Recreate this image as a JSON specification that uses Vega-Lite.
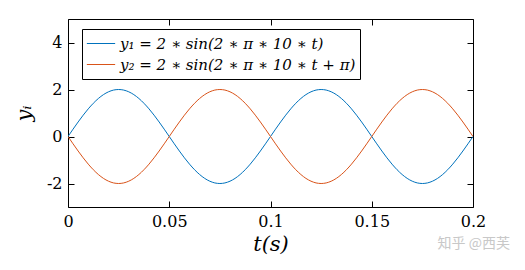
{
  "$schema": "https://vega.github.io/schema/vega-lite/v6.json",
  "width": 405,
  "height": 188,
  "autosize": {"type": "none"},
  "padding": {"left": 68, "top": 19, "right": 52, "bottom": 63},
  "background": "white",
  "config": {
    "view": {"stroke": "black", "strokeWidth": 1},
    "axis": {
      "grid": false,
      "domain": false,
      "ticks": true,
      "tickColor": "black",
      "tickSize": -6,
      "tickWidth": 1,
      "labelFlush": false,
      "labelFont": "DejaVu Serif",
      "labelFontSize": 16,
      "labelColor": "black",
      "titleFont": "DejaVu Serif",
      "titleFontSize": 21,
      "titleFontStyle": "italic",
      "titleFontWeight": "normal",
      "titleColor": "black"
    }
  },
  "title": {
    "text": "知乎 @西芙",
    "orient": "bottom",
    "anchor": "end",
    "frame": "group",
    "font": "Noto Sans CJK SC",
    "fontSize": 14,
    "fontWeight": "normal",
    "color": "#c8c8c8",
    "dx": 37,
    "offset": -17
  },
  "data": {
    "values": [
      {"t": 0, "y1": 0, "y2": 0},
      {"t": 0.0025, "y1": 0.3129, "y2": -0.3129},
      {"t": 0.005, "y1": 0.618, "y2": -0.618},
      {"t": 0.0075, "y1": 0.908, "y2": -0.908},
      {"t": 0.01, "y1": 1.1756, "y2": -1.1756},
      {"t": 0.0125, "y1": 1.4142, "y2": -1.4142},
      {"t": 0.015, "y1": 1.618, "y2": -1.618},
      {"t": 0.0175, "y1": 1.782, "y2": -1.782},
      {"t": 0.02, "y1": 1.9021, "y2": -1.9021},
      {"t": 0.0225, "y1": 1.9754, "y2": -1.9754},
      {"t": 0.025, "y1": 2, "y2": -2},
      {"t": 0.0275, "y1": 1.9754, "y2": -1.9754},
      {"t": 0.03, "y1": 1.9021, "y2": -1.9021},
      {"t": 0.0325, "y1": 1.782, "y2": -1.782},
      {"t": 0.035, "y1": 1.618, "y2": -1.618},
      {"t": 0.0375, "y1": 1.4142, "y2": -1.4142},
      {"t": 0.04, "y1": 1.1756, "y2": -1.1756},
      {"t": 0.0425, "y1": 0.908, "y2": -0.908},
      {"t": 0.045, "y1": 0.618, "y2": -0.618},
      {"t": 0.0475, "y1": 0.3129, "y2": -0.3129},
      {"t": 0.05, "y1": 0, "y2": 0},
      {"t": 0.0525, "y1": -0.3129, "y2": 0.3129},
      {"t": 0.055, "y1": -0.618, "y2": 0.618},
      {"t": 0.0575, "y1": -0.908, "y2": 0.908},
      {"t": 0.06, "y1": -1.1756, "y2": 1.1756},
      {"t": 0.0625, "y1": -1.4142, "y2": 1.4142},
      {"t": 0.065, "y1": -1.618, "y2": 1.618},
      {"t": 0.0675, "y1": -1.782, "y2": 1.782},
      {"t": 0.07, "y1": -1.9021, "y2": 1.9021},
      {"t": 0.0725, "y1": -1.9754, "y2": 1.9754},
      {"t": 0.075, "y1": -2, "y2": 2},
      {"t": 0.0775, "y1": -1.9754, "y2": 1.9754},
      {"t": 0.08, "y1": -1.9021, "y2": 1.9021},
      {"t": 0.0825, "y1": -1.782, "y2": 1.782},
      {"t": 0.085, "y1": -1.618, "y2": 1.618},
      {"t": 0.0875, "y1": -1.4142, "y2": 1.4142},
      {"t": 0.09, "y1": -1.1756, "y2": 1.1756},
      {"t": 0.0925, "y1": -0.908, "y2": 0.908},
      {"t": 0.095, "y1": -0.618, "y2": 0.618},
      {"t": 0.0975, "y1": -0.3129, "y2": 0.3129},
      {"t": 0.1, "y1": 0, "y2": 0},
      {"t": 0.1025, "y1": 0.3129, "y2": -0.3129},
      {"t": 0.105, "y1": 0.618, "y2": -0.618},
      {"t": 0.1075, "y1": 0.908, "y2": -0.908},
      {"t": 0.11, "y1": 1.1756, "y2": -1.1756},
      {"t": 0.1125, "y1": 1.4142, "y2": -1.4142},
      {"t": 0.115, "y1": 1.618, "y2": -1.618},
      {"t": 0.1175, "y1": 1.782, "y2": -1.782},
      {"t": 0.12, "y1": 1.9021, "y2": -1.9021},
      {"t": 0.1225, "y1": 1.9754, "y2": -1.9754},
      {"t": 0.125, "y1": 2, "y2": -2},
      {"t": 0.1275, "y1": 1.9754, "y2": -1.9754},
      {"t": 0.13, "y1": 1.9021, "y2": -1.9021},
      {"t": 0.1325, "y1": 1.782, "y2": -1.782},
      {"t": 0.135, "y1": 1.618, "y2": -1.618},
      {"t": 0.1375, "y1": 1.4142, "y2": -1.4142},
      {"t": 0.14, "y1": 1.1756, "y2": -1.1756},
      {"t": 0.1425, "y1": 0.908, "y2": -0.908},
      {"t": 0.145, "y1": 0.618, "y2": -0.618},
      {"t": 0.1475, "y1": 0.3129, "y2": -0.3129},
      {"t": 0.15, "y1": 0, "y2": 0},
      {"t": 0.1525, "y1": -0.3129, "y2": 0.3129},
      {"t": 0.155, "y1": -0.618, "y2": 0.618},
      {"t": 0.1575, "y1": -0.908, "y2": 0.908},
      {"t": 0.16, "y1": -1.1756, "y2": 1.1756},
      {"t": 0.1625, "y1": -1.4142, "y2": 1.4142},
      {"t": 0.165, "y1": -1.618, "y2": 1.618},
      {"t": 0.1675, "y1": -1.782, "y2": 1.782},
      {"t": 0.17, "y1": -1.9021, "y2": 1.9021},
      {"t": 0.1725, "y1": -1.9754, "y2": 1.9754},
      {"t": 0.175, "y1": -2, "y2": 2},
      {"t": 0.1775, "y1": -1.9754, "y2": 1.9754},
      {"t": 0.18, "y1": -1.9021, "y2": 1.9021},
      {"t": 0.1825, "y1": -1.782, "y2": 1.782},
      {"t": 0.185, "y1": -1.618, "y2": 1.618},
      {"t": 0.1875, "y1": -1.4142, "y2": 1.4142},
      {"t": 0.19, "y1": -1.1756, "y2": 1.1756},
      {"t": 0.1925, "y1": -0.908, "y2": 0.908},
      {"t": 0.195, "y1": -0.618, "y2": 0.618},
      {"t": 0.1975, "y1": -0.3129, "y2": 0.3129},
      {"t": 0.2, "y1": 0, "y2": 0}
    ]
  },
  "transform": [{"fold": ["y1", "y2"], "as": ["series", "y"]}],
  "layer": [
    {
      "mark": {"type": "line", "strokeWidth": 1, "interpolate": "monotone", "clip": true},
      "encoding": {
        "x": {
          "field": "t", "type": "quantitative",
          "scale": {"domain": [0, 0.2], "nice": false, "zero": false},
          "axis": {"orient": "bottom", "title": "t(s)", "values": [0, 0.05, 0.1, 0.15, 0.2], "format": "~g", "labelPadding": 12, "titlePadding": 4}
        },
        "y": {
          "field": "y", "type": "quantitative",
          "scale": {"domain": [-3, 5], "nice": false, "zero": false},
          "axis": {"orient": "left", "title": "yᵢ", "values": [-2, 0, 2, 4], "labelExpr": "'' + datum.value", "labelPadding": 12, "titlePadding": 12}
        },
        "color": {
          "field": "series", "type": "nominal",
          "scale": {"domain": ["y1", "y2"], "range": ["#0072BD", "#D95319"]},
          "legend": {
            "title": null,
            "orient": "none",
            "legendX": 14,
            "legendY": 10,
            "direction": "vertical",
            "symbolType": "stroke",
            "symbolSize": 800,
            "symbolStrokeWidth": 1,
            "labelFont": "DejaVu Serif",
            "labelFontSize": 15,
            "labelFontStyle": "italic",
            "labelColor": "black",
            "labelOffset": 4,
            "labelLimit": 400,
            "rowPadding": 0,
            "clipHeight": 21,
            "padding": 4,
            "strokeColor": "black",
            "fillColor": "white",
            "labelExpr": "datum.value == 'y1' ? 'y₁ = 2 ∗ sin(2 ∗ π ∗ 10 ∗ t)' : 'y₂ = 2 ∗ sin(2 ∗ π ∗ 10 ∗ t + π)'"
          }
        }
      }
    },
    {
      "mark": {"type": "line", "opacity": 0},
      "encoding": {
        "x": {"field": "t", "type": "quantitative", "axis": {"orient": "top", "title": null, "labels": false, "values": [0, 0.05, 0.1, 0.15, 0.2]}},
        "y": {"field": "y", "type": "quantitative", "axis": {"orient": "right", "title": null, "labels": false, "values": [-2, 0, 2, 4]}}
      }
    }
  ],
  "resolve": {"axis": {"x": "independent", "y": "independent"}}
}
